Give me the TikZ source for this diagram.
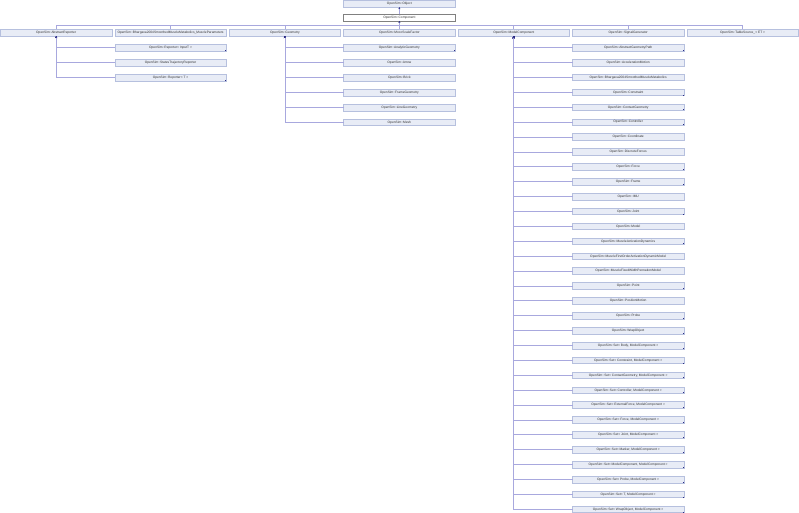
\documentclass[tikz,border=0pt]{standalone}
\usepackage{fontspec}
\setmainfont{Liberation Sans}
\usetikzlibrary{arrows.meta}
\definecolor{boxfill}{RGB}{232,236,246}
\definecolor{boxdraw}{RGB}{182,192,222}
\definecolor{linec}{RGB}{168,168,222}
\definecolor{tipc}{RGB}{40,40,130}
\tikzset{
  box/.style={draw=boxdraw, fill=boxfill, line width=0.6pt, anchor=north west,
    minimum width=111.3pt, minimum height=6.6pt, inner sep=0pt, outer sep=0pt,
    font=\fontsize{3.25}{3.6}\selectfont, text=black!80},
  curbox/.style={box, fill=white, draw=black!50},
  conn/.style={draw=linec, line width=0.8pt},
  uparr/.style={conn, -{Stealth[length=2pt,width=2pt,fill=tipc,color=tipc]}},
  moremark/.style={fill=tipc}
}
\newcommand{\moremark}[1]{\fill[moremark] ([shift={(-1.1,-1.1)}]#1.south east) rectangle ([shift={(-0.3,-0.3)}]#1.south east);}
\begin{document}
\begin{tikzpicture}[x=1pt,y=-1pt]
\useasboundingbox (0,0) rectangle (799,512);
% top
\node[box] (obj) at (343.7,0.5) {OpenSim::Object};
\node[curbox] (comp) at (343.7,14.3) {OpenSim::Component};
\draw[uparr] (comp.north) -- (obj.south);
% row 2
\node[box] (ar) at (0.5,29.4) {OpenSim::AbstractReporter};
\node[box] (bmp) at (114.9,29.4) {OpenSim::Bhargava2004SmoothedMuscleMetabolics\_MuscleParameters};
\node[box] (geo) at (229.3,29.4) {OpenSim::Geometry};
\node[box] (msf) at (343.7,29.4) {OpenSim::MocoScaleFactor};
\node[box] (mc) at (458.1,29.4) {OpenSim::ModelComponent};
\node[box] (sg) at (572.5,29.4) {OpenSim::SignalGenerator};
\node[box] (ts) at (686.9,29.4) {OpenSim::TableSource\_< ET >};
\coordinate (bus) at ([yshift=-4.4pt]comp.south);
\foreach \n in {ar,bmp,geo,msf,mc,sg,ts}{\draw[conn] (\n.north) |- (bus);}
\draw[uparr] (bus) -- (comp.south);
% AbstractReporter children
\foreach \t/\d [count=\k from 0] in {{OpenSim::Reporter< InputT >}/1,{OpenSim::StatesTrajectoryReporter}/0,{OpenSim::Reporter< T >}/1}{
  \node[box] (ar\k) at (114.9,{44.4+14.95*\k}) {\t};
  \ifnum\d=1 \moremark{ar\k}\fi
  \draw[uparr] (ar\k.west) -| (ar.south);
}
% Geometry children
\foreach \t/\d [count=\k from 0] in {{OpenSim::AnalyticGeometry}/1,{OpenSim::Arrow}/0,{OpenSim::Brick}/0,{OpenSim::FrameGeometry}/0,{OpenSim::LineGeometry}/0,{OpenSim::Mesh}/0}{
  \node[box] (geo\k) at (343.7,{44.4+14.95*\k}) {\t};
  \ifnum\d=1 \moremark{geo\k}\fi
  \draw[uparr] (geo\k.west) -| (geo.south);
}
% ModelComponent children
\foreach \t/\d [count=\k from 0] in {
 {OpenSim::AbstractGeometryPath}/1,
 {OpenSim::AccelerationMotion}/0,
 {OpenSim::Bhargava2004SmoothedMuscleMetabolics}/0,
 {OpenSim::Constraint}/1,
 {OpenSim::ContactGeometry}/1,
 {OpenSim::Controller}/1,
 {OpenSim::Coordinate}/0,
 {OpenSim::DiscreteForces}/0,
 {OpenSim::Force}/1,
 {OpenSim::Frame}/1,
 {OpenSim::IMU}/0,
 {OpenSim::Joint}/1,
 {OpenSim::Model}/0,
 {OpenSim::MuscleActivationDynamics}/1,
 {OpenSim::MuscleFirstOrderActivationDynamicModel}/0,
 {OpenSim::MuscleFixedWidthPennationModel}/0,
 {OpenSim::Point}/1,
 {OpenSim::PositionMotion}/0,
 {OpenSim::Probe}/1,
 {OpenSim::WrapObject}/1,
 {OpenSim::Set< Body, ModelComponent >}/1,
 {OpenSim::Set< Constraint, ModelComponent >}/1,
 {OpenSim::Set< ContactGeometry, ModelComponent >}/1,
 {OpenSim::Set< Controller, ModelComponent >}/1,
 {OpenSim::Set< ExternalForce, ModelComponent >}/1,
 {OpenSim::Set< Force, ModelComponent >}/1,
 {OpenSim::Set< Joint, ModelComponent >}/1,
 {OpenSim::Set< Marker, ModelComponent >}/1,
 {OpenSim::Set< ModelComponent, ModelComponent >}/1,
 {OpenSim::Set< Probe, ModelComponent >}/1,
 {OpenSim::Set< T, ModelComponent >}/1,
 {OpenSim::Set< WrapObject, ModelComponent >}/1}{
  \node[box] (mc\k) at (572.5,{44.4+14.89*\k}) {\t};
  \ifnum\d=1 \moremark{mc\k}\fi
  \draw[uparr] (mc\k.west) -| (mc.south);
}
\end{tikzpicture}
\end{document}
